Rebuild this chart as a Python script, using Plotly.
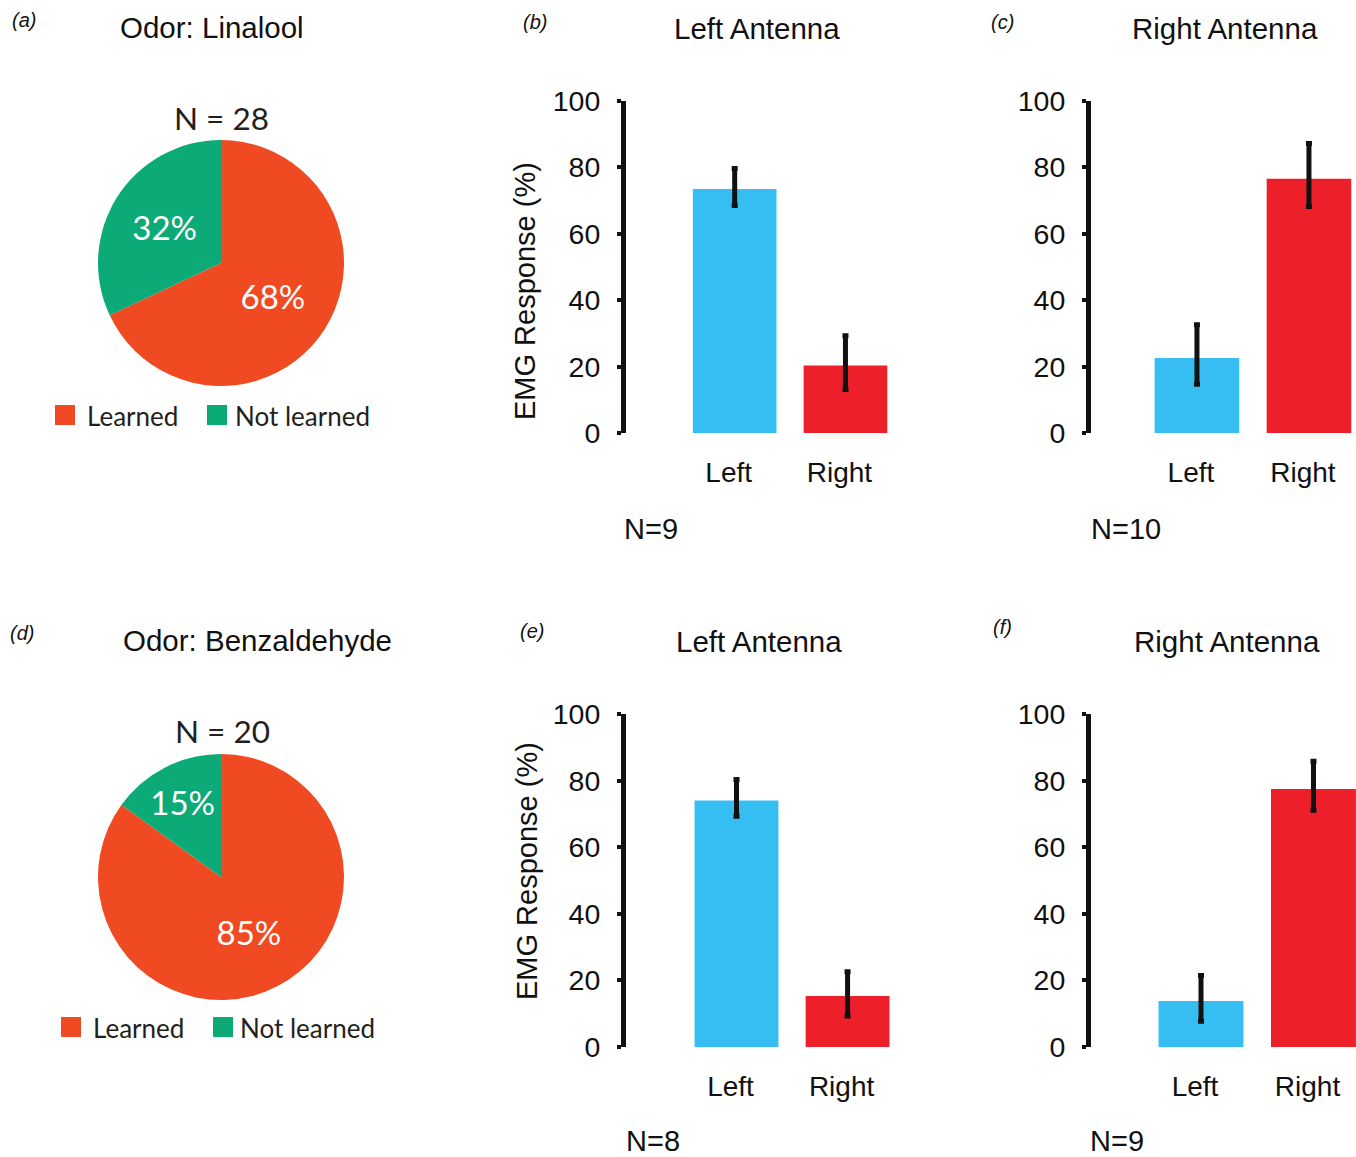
import plotly.graph_objects as go

W, H = 1356, 1157

# ---------------- data ----------------
pie_labels = ["Learned", "Not learned"]
pie_a_values = [68, 32]   # Odor: Linalool, N = 28
pie_d_values = [85, 15]   # Odor: Benzaldehyde, N = 20
pie_colors = ["#F04A22", "#0BAA76"]

bar_categories = ["Left", "Right"]
bar_colors = ["#36BEF2", "#EC1F2A"]

b_means = [73.5, 20.3]
b_err_plus = [6.2, 9.0]
b_err_minus = [5.0, 7.2]

c_means = [22.6, 76.6]
c_err_plus = [10.0, 10.6]
c_err_minus = [7.9, 8.4]

e_means = [74.0, 15.3]
e_err_plus = [6.3, 7.3]
e_err_minus = [4.7, 6.0]

f_means = [13.8, 77.5]
f_err_plus = [7.7, 8.3]
f_err_minus = [6.1, 6.4]

y_ticks = [0, 20, 40, 60, 80, 100]

ARIAL = "Liberation Sans, Arial, sans-serif"
MYRIAD = "Lato, Open Sans, sans-serif"
INK = "#111111"
DARK = "#231F20"


def px_x(x):
    return x / W


def px_y(y):
    return 1 - y / H


fig = go.Figure()

# ---------------- pies ----------------
for vals, dom_y in [
    (pie_a_values, [px_y(386), px_y(140)]),
    (pie_d_values, [px_y(1000), px_y(754)]),
]:
    fig.add_trace(go.Pie(
        labels=pie_labels,
        values=vals,
        marker=dict(colors=pie_colors, line=dict(width=0)),
        sort=False,
        direction="clockwise",
        rotation=0,
        texttemplate="%{value}%",
        textposition="inside",
        insidetextorientation="horizontal",
        textfont=dict(color="white", size=33, family=MYRIAD),
        domain=dict(x=[px_x(98), px_x(344)], y=dom_y),
        showlegend=False,
        hoverinfo="label+percent",
    ))

# ---------------- bars ----------------
panels = [
    (b_means, b_err_plus, b_err_minus, "x", "y"),
    (c_means, c_err_plus, c_err_minus, "x2", "y2"),
    (e_means, e_err_plus, e_err_minus, "x3", "y3"),
    (f_means, f_err_plus, f_err_minus, "x4", "y4"),
]
for means, ep, em, xa, ya in panels:
    fig.add_trace(go.Bar(
        x=bar_categories,
        y=means,
        marker=dict(color=bar_colors, line=dict(width=0)),
        width=0.755,
        error_y=dict(type="data", array=ep, arrayminus=em, symmetric=False,
                     color=INK, thickness=5, width=3),
        xaxis=xa,
        yaxis=ya,
        showlegend=False,
    ))

x_domains = {
    "": [px_x(626), px_x(889)],
    "2": [px_x(1091), 1.0],
    "3": [px_x(626), px_x(892)],
    "4": [px_x(1091), 1.0],
}
x_ranges = {
    "": [-0.981, 1.393],
    "2": [-0.946, 1.42],
    "3": [-0.995, 1.40],
    "4": [-0.978, 1.378],
}
y_domains = {
    "": [px_y(433), px_y(101)],
    "2": [px_y(433), px_y(101)],
    "3": [px_y(1047), px_y(714)],
    "4": [px_y(1047), px_y(714)],
}

layout_axes = {}
for k in ["", "2", "3", "4"]:
    layout_axes["xaxis" + k] = dict(
        domain=x_domains[k],
        anchor="y" + k,
        type="category",
        categoryorder="array",
        categoryarray=bar_categories,
        range=x_ranges[k],
        showline=False,
        showgrid=False,
        zeroline=False,
        ticks="",
        ticklabelstandoff=20,
        ticklabelshift=-6,
        tickfont=dict(family=ARIAL, size=28, color=INK),
        automargin=False,
        fixedrange=True,
    )
    layout_axes["yaxis" + k] = dict(
        domain=y_domains[k],
        anchor="x" + k,
        range=[0, 100],
        tickvals=y_ticks,
        showline=True,
        linecolor=INK,
        linewidth=5,
        ticks="outside",
        ticklen=4,
        tickwidth=4,
        tickcolor=INK,
        ticklabelstandoff=11,
        showgrid=False,
        zeroline=False,
        tickfont=dict(family=ARIAL, size=28.5, color=INK),
        automargin=False,
        fixedrange=True,
    )

annotations = []


def ann(text, x, y, size, family=ARIAL, xanchor="center", color=INK, angle=0):
    annotations.append(dict(
        text=text, x=px_x(x), y=px_y(y), xref="paper", yref="paper",
        xanchor=xanchor, yanchor="middle", showarrow=False, textangle=angle,
        font=dict(family=family, size=size, color=color),
    ))


# panel letters
for t, x, y in [("(a)", 10, 20), ("(b)", 521, 22), ("(c)", 989, 22),
                ("(d)", 8, 633), ("(e)", 518, 631), ("(f)", 991, 627)]:
    ann("<i>" + t + "</i>", x, y, 20, xanchor="left")

# titles
ann("Odor: Linalool", 212, 28, 29.5)
ann("Left Antenna", 757, 29, 29.5)
ann("Right Antenna", 1225, 29, 29.5)
ann("Odor: Benzaldehyde", 257, 640, 29.5)
ann("Left Antenna", 759, 641, 29.5)
ann("Right Antenna", 1227, 641, 29.5)

# y-axis titles
ann("EMG Response (%)", 525, 291, 29, angle=-90)
ann("EMG Response (%)", 527, 871, 29, angle=-90)

# pie sample sizes
ann("N = 28", 221, 118, 31.5, family=MYRIAD, color=DARK)
ann("N = 20", 222, 731, 31.5, family=MYRIAD, color=DARK)

# bar sample sizes
ann("N=9", 651, 529, 29)
ann("N=10", 1126, 529, 29)
ann("N=8", 653, 1141, 29)
ann("N=9", 1117, 1141, 29)

# pie legends (swatch + label)
shapes = []
for sw_x, txt_x, y_c in [((55, 207), (85, 233), 415), ((61, 213), (91, 238), 1027)]:
    for lab, col, sx, tx in zip(pie_labels, pie_colors, sw_x, txt_x):
        shapes.append(dict(
            type="rect", xref="paper", yref="paper",
            x0=px_x(sx), x1=px_x(sx + 20), y0=px_y(y_c + 10), y1=px_y(y_c - 10),
            fillcolor=col, line=dict(width=0),
        ))
        ann(lab, tx, y_c + 1, 26, family=MYRIAD, xanchor="left", color=DARK)

fig.update_layout(
    width=W,
    height=H,
    autosize=False,
    margin=dict(l=0, r=0, t=0, b=0, pad=0, autoexpand=False),
    paper_bgcolor="white",
    plot_bgcolor="white",
    annotations=annotations,
    shapes=shapes,
    showlegend=False,
    **layout_axes,
)

fig.write_html(
    "out.html",
    config={"responsive": False, "displayModeBar": False},
    post_script="document.body.style.margin='0';document.body.style.overflow='hidden';",
)
